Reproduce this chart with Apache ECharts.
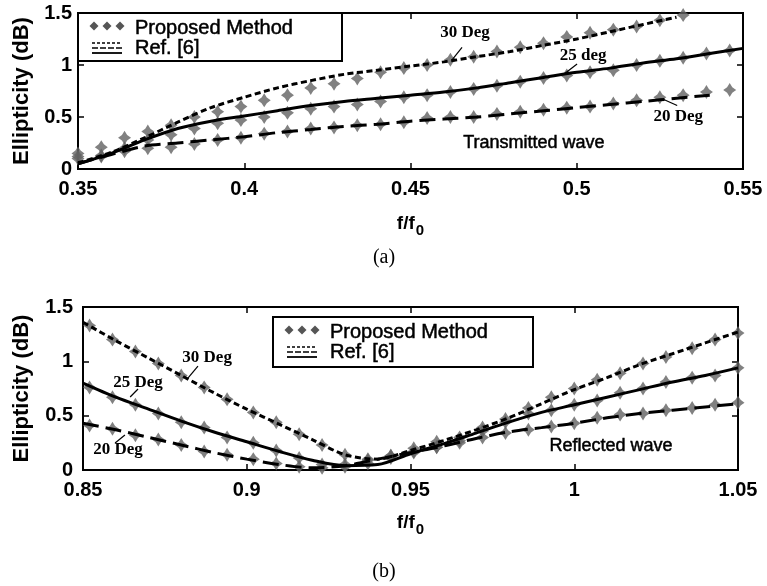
<!DOCTYPE html>
<html>
<head>
<meta charset="utf-8">
<script src="https://cdn.jsdelivr.net/npm/echarts@6/dist/echarts.min.js"></script>
<style>
  html, body { margin: 0; padding: 0; background: #fff; }
  #chart { width: 767px; height: 586px; }
</style>
</head>
<body>
<div id="chart"></div>
<script>
// ---- Panel (a): transmitted wave ----
// Frequencies of the computed points (proposed method)
const fTrans = [0.350, 0.357, 0.364, 0.371, 0.378, 0.385, 0.392, 0.399, 0.406, 0.413,
                0.420, 0.427, 0.434, 0.441, 0.448, 0.455, 0.462, 0.469, 0.476, 0.483,
                0.490, 0.497, 0.504, 0.511, 0.518, 0.525, 0.532, 0.539, 0.546];
const trans30 = [0.15, 0.21, 0.30, 0.36, 0.42, 0.50, 0.55, 0.60, 0.66, 0.71,
                 0.78, 0.82, 0.87, 0.93, 0.97, 1.00, 1.05, 1.08, 1.13, 1.17,
                 1.21, 1.27, 1.31, 1.34, 1.37, 1.43, 1.48];
const trans25 = [0.12, 0.13, 0.20, 0.28, 0.33, 0.39, 0.44, 0.47, 0.50, 0.54,
                 0.58, 0.60, 0.62, 0.65, 0.69, 0.71, 0.74, 0.77, 0.80, 0.84,
                 0.875, 0.90, 0.93, 0.95, 1.00, 1.04, 1.07, 1.11, 1.14];
const trans20 = [0.10, 0.12, 0.17, 0.20, 0.21, 0.24, 0.28, 0.30, 0.34, 0.36,
                 0.39, 0.40, 0.42, 0.43, 0.45, 0.49, 0.50, 0.50, 0.53, 0.55,
                 0.57, 0.59, 0.60, 0.63, 0.66, 0.69, 0.71, 0.74, 0.76];
// Reference curves, Ref. [6]
const fTransRef = [0.35, 0.36, 0.37, 0.38, 0.39, 0.40, 0.41, 0.42, 0.43, 0.44, 0.45,
                   0.46, 0.47, 0.48, 0.49, 0.50, 0.51, 0.52, 0.53, 0.54, 0.55];
const ref30T = [0.06, 0.16, 0.30, 0.45, 0.59, 0.69, 0.78, 0.85, 0.91, 0.95, 0.99,
                1.03, 1.08, 1.13, 1.19, 1.25, 1.32, 1.39, 1.46, null, null];
const ref25T = [0.05, 0.15, 0.28, 0.39, 0.46, 0.51, 0.56, 0.61, 0.65, 0.68, 0.71,
                0.74, 0.78, 0.83, 0.88, 0.93, 0.97, 1.02, 1.06, 1.11, 1.16];
const ref20T = [0.05, 0.14, 0.22, 0.25, 0.28, 0.31, 0.35, 0.38, 0.41, 0.43, 0.46,
                0.48, 0.50, 0.53, 0.56, 0.59, 0.62, 0.65, 0.68, 0.71, null];

// ---- Panel (b): reflected wave ----
const fRefl = [0.852, 0.859, 0.866, 0.873, 0.880, 0.887, 0.894, 0.902, 0.909, 0.916,
               0.923, 0.930, 0.937, 0.944, 0.951, 0.958, 0.965, 0.972, 0.979, 0.986,
               0.993, 1.000, 1.007, 1.014, 1.021, 1.028, 1.036, 1.043, 1.050];
const refl30 = [1.33, 1.20, 1.09, 0.98, 0.87, 0.76, 0.65, 0.53, 0.44, 0.33,
                0.23, 0.14, 0.10, 0.13, 0.20, 0.26, 0.30, 0.39, 0.47, 0.57,
                0.67, 0.75, 0.83, 0.89, 0.98, 1.04, 1.12, 1.20, 1.26];
const refl25 = [0.76, 0.67, 0.60, 0.52, 0.44, 0.39, 0.30, 0.25, 0.18, 0.11,
                0.05, 0.03, 0.06, 0.11, 0.16, 0.21, 0.27, 0.36, 0.44, 0.52,
                0.55, 0.60, 0.64, 0.71, 0.75, 0.81, 0.85, 0.87, 0.94];
const refl20 = [0.41, 0.38, 0.32, 0.28, 0.23, 0.17, 0.14, 0.10, 0.06, 0.03,
                0.02, 0.05, 0.09, 0.13, 0.17, 0.21, 0.25, 0.30, 0.34, 0.37,
                0.40, 0.43, 0.48, 0.51, 0.52, 0.55, 0.57, 0.60, 0.62];
const fReflRef = [0.85, 0.86, 0.87, 0.88, 0.89, 0.90, 0.91, 0.92, 0.93, 0.94, 0.95,
                  0.96, 0.97, 0.98, 0.99, 1.00, 1.01, 1.02, 1.03, 1.04, 1.05];
const ref30R = [1.36, 1.19, 1.03, 0.87, 0.71, 0.56, 0.42, 0.28, 0.14, 0.10, 0.18,
                0.27, 0.37, 0.48, 0.61, 0.74, 0.85, 0.97, 1.07, 1.17, 1.27];
const ref25R = [0.80, 0.67, 0.56, 0.45, 0.35, 0.26, 0.17, 0.09, 0.04, 0.05, 0.15,
                0.24, 0.34, 0.44, 0.53, 0.60, 0.67, 0.74, 0.81, 0.87, 0.94];
const ref20R = [0.43, 0.37, 0.30, 0.23, 0.16, 0.10, 0.05, 0.02, 0.04, 0.10, 0.16,
                0.22, 0.29, 0.35, 0.39, 0.43, 0.48, 0.52, 0.55, 0.58, 0.61];

// Axis ranges and tick labels
const xTicksA = [0.35, 0.4, 0.45, 0.5, 0.55];
const xTicksB = [0.85, 0.9, 0.95, 1, 1.05];
const yTicks = [0, 0.5, 1, 1.5];

const SANS = "'Liberation Sans', Arial, Helvetica, sans-serif";
const SERIF = "'Liberation Serif', 'Times New Roman', serif";
const STAR = 'path://M10,0 L14,6 L20,10 L14,14 L10,20 L6,14 L0,10 L6,6 Z';

function pairs(xs, ys) {
  const out = [];
  for (let i = 0; i < xs.length; i++) {
    if (ys[i] !== undefined && ys[i] !== null) out.push([xs[i], ys[i]]);
  }
  return out;
}

const chart = echarts.init(document.getElementById('chart'), null, { renderer: 'canvas' });

function mainX(grid, ticks, nameGap) {
  return {
    gridIndex: grid, type: 'value',
    min: ticks[0], max: ticks[ticks.length - 1], interval: 0.05,
    axisLine: { show: true, onZero: false, lineStyle: { color: '#000', width: 2 } },
    axisTick: { show: true, inside: true, length: 6, lineStyle: { color: '#000', width: 1.5 } },
    axisLabel: { color: '#000', fontSize: 20, fontWeight: 'bold', fontFamily: SANS, margin: 10,
                 formatter: v => String(+v.toFixed(2)) },
    splitLine: { show: false },
    name: '{a|f/f}{b|0}', nameLocation: 'middle', nameGap: nameGap,
    nameTextStyle: {
      rich: {
        a: { fontSize: 19, fontWeight: 'bold', fontFamily: SANS, color: '#000' },
        b: { fontSize: 15, fontWeight: 'bold', fontFamily: SANS, color: '#000', padding: [14, 0, 0, 1] }
      }
    }
  };
}
function mirrorX(grid, ticks) {
  return {
    gridIndex: grid, type: 'value', position: 'top',
    min: ticks[0], max: ticks[ticks.length - 1], interval: 0.05,
    axisLine: { show: true, onZero: false, lineStyle: { color: '#000', width: 2 } },
    axisTick: { show: true, inside: true, length: 6, lineStyle: { color: '#000', width: 1.5 } },
    axisLabel: { show: false }, splitLine: { show: false }
  };
}
function mainY(grid, margin, nameGap) {
  return {
    gridIndex: grid, type: 'value', min: yTicks[0], max: yTicks[yTicks.length - 1], interval: 0.5,
    axisLine: { show: true, onZero: false, lineStyle: { color: '#000', width: 2 } },
    axisTick: { show: true, inside: true, length: 6, lineStyle: { color: '#000', width: 1.5 } },
    axisLabel: { color: '#000', fontSize: 20, fontWeight: 'bold', fontFamily: SANS, margin: margin },
    splitLine: { show: false },
    name: 'Ellipticity (dB)', nameLocation: 'middle', nameRotate: 90, nameGap: nameGap,
    nameTextStyle: { color: '#000', fontSize: 22, fontWeight: 'bold', fontFamily: SANS }
  };
}
function mirrorY(grid) {
  return {
    gridIndex: grid, type: 'value', position: 'right', min: 0, max: 1.5, interval: 0.5,
    axisLine: { show: true, onZero: false, lineStyle: { color: '#000', width: 2 } },
    axisTick: { show: true, inside: true, length: 6, lineStyle: { color: '#000', width: 1.5 } },
    axisLabel: { show: false }, splitLine: { show: false }
  };
}

function markers(xi, yi, xs, ys) {
  return {
    name: 'Proposed Method', type: 'scatter', xAxisIndex: xi, yAxisIndex: yi,
    data: pairs(xs, ys), symbol: STAR, symbolSize: [13, 14],
    itemStyle: { color: '#626262' }, z: 2, silent: true
  };
}
function refLine(xi, yi, xs, ys, dash) {
  return {
    name: 'Ref. [6]', type: 'line', xAxisIndex: xi, yAxisIndex: yi,
    data: pairs(xs, ys), showSymbol: false, smooth: 0.3,
    lineStyle: { color: '#000', width: 3, type: dash }, z: 3, silent: true
  };
}

const DASH30 = [6, 3.5];
const DASH20 = [16, 7];

chart.setOption({
  backgroundColor: '#fff',
  animation: false,
  grid: [
    { left: 78, top: 13, width: 665, height: 156, show: true, borderColor: '#000', borderWidth: 2 },
    { left: 83, top: 307, width: 655, height: 163, show: true, borderColor: '#000', borderWidth: 2 }
  ],
  xAxis: [mainX(0, xTicksA, 40), mirrorX(0, xTicksA), mainX(1, xTicksB, 38), mirrorX(1, xTicksB)],
  yAxis: [mainY(0, 6, 44), mirrorY(0), mainY(1, 10, 50), mirrorY(1)],
  series: [
    markers(0, 0, fTrans, trans30),
    markers(0, 0, fTrans, trans25),
    markers(0, 0, fTrans, trans20),
    refLine(0, 0, fTransRef, ref30T, DASH30),
    refLine(0, 0, fTransRef, ref25T, 'solid'),
    refLine(0, 0, fTransRef, ref20T, DASH20),
    markers(2, 2, fRefl, refl30),
    markers(2, 2, fRefl, refl25),
    markers(2, 2, fRefl, refl20),
    refLine(2, 2, fReflRef, ref30R, DASH30),
    refLine(2, 2, fReflRef, ref25R, 'solid'),
    refLine(2, 2, fReflRef, ref20R, DASH20)
  ]
});

// ---- Annotations, legends and captions ----
function px(grid, x, y) {
  return chart.convertToPixel({ xAxisIndex: grid * 2, yAxisIndex: grid * 2 }, [x, y]);
}
const g = [];
function label(grid, text, x, y, font, heavy) {
  const p = px(grid, x, y);
  const style = { text: text, font: font, fill: '#000', align: 'center', verticalAlign: 'middle' };
  if (heavy) { style.stroke = '#000'; style.lineWidth = 0.5; }
  g.push({ type: 'text', x: p[0], y: p[1], z: 10, style: style });
}
function leader(grid, x1, y1, x2, y2) {
  const a = px(grid, x1, y1), b = px(grid, x2, y2);
  g.push({ type: 'line', z: 10, shape: { x1: a[0], y1: a[1], x2: b[0], y2: b[1] },
           style: { stroke: '#000', lineWidth: 1.2 } });
}
const DEG_FONT = "bold 17px " + SERIF;
const WAVE_FONT = "18px " + SANS;

// Panel (a)
label(0, '30 Deg', 0.4664, 1.31, DEG_FONT);
leader(0, 0.4655, 1.17, 0.4625, 1.05);
label(0, '25 deg', 0.5019, 1.087, DEG_FONT);
leader(0, 0.5001, 1.01, 0.4965, 0.92);
label(0, '20 Deg', 0.5305, 0.50, DEG_FONT);
leader(0, 0.5302, 0.61, 0.526, 0.67);
label(0, 'Transmitted wave', 0.4871, 0.25, WAVE_FONT, true);
// Panel (b)
label(1, '30 Deg', 0.8879, 1.03, DEG_FONT);
leader(1, 0.8851, 0.957, 0.8821, 0.847);
label(1, '25 Deg', 0.8668, 0.80, DEG_FONT);
leader(1, 0.8668, 0.745, 0.8644, 0.672);
label(1, '20 Deg', 0.8607, 0.184, DEG_FONT);
leader(1, 0.8598, 0.248, 0.8628, 0.322);
label(1, 'Reflected wave', 1.0112, 0.22, WAVE_FONT, true);

// Legend boxes
function legendBox(x0, y0, w, h) {
  g.push({ type: 'rect', z: 11, shape: { x: x0, y: y0, width: w, height: h },
           style: { fill: '#fff', stroke: '#000', lineWidth: 2 } });
  const ix = x0 + 14, tx = x0 + 57;
  // three diamonds
  for (let k = 0; k < 3; k++) {
    const cx = ix + 2 + k * 13, cy = y0 + 13;
    g.push({ type: 'polygon', z: 12, shape: { points: [[cx, cy - 4.5], [cx + 4.5, cy], [cx, cy + 4.5], [cx - 4.5, cy]] },
             style: { fill: '#555' } });
  }
  // stacked line samples
  g.push({ type: 'line', z: 12, shape: { x1: ix, y1: y0 + 30, x2: ix + 30, y2: y0 + 30 },
           style: { stroke: '#000', lineWidth: 1.6, lineDash: [3, 2] } });
  g.push({ type: 'line', z: 12, shape: { x1: ix, y1: y0 + 35, x2: ix + 30, y2: y0 + 35 },
           style: { stroke: '#000', lineWidth: 1.6, lineDash: [6, 2] } });
  g.push({ type: 'line', z: 12, shape: { x1: ix, y1: y0 + 40, x2: ix + 30, y2: y0 + 40 },
           style: { stroke: '#000', lineWidth: 1.8 } });
  const ts = { font: '20px ' + SANS, fill: '#000', stroke: '#000', lineWidth: 0.5, verticalAlign: 'middle' };
  g.push({ type: 'text', z: 12, x: tx, y: y0 + 15, style: Object.assign({ text: 'Proposed Method' }, ts) });
  g.push({ type: 'text', z: 12, x: tx, y: y0 + 35, style: Object.assign({ text: 'Ref. [6]' }, ts) });
}
legendBox(78, 13, 264, 48);
legendBox(273, 317, 260, 50);

// Captions
g.push({ type: 'text', x: 384, y: 258, style: { text: '(a)', font: '20px ' + SERIF, fill: '#000', align: 'center', verticalAlign: 'middle' } });
g.push({ type: 'text', x: 384, y: 572, style: { text: '(b)', font: '20px ' + SERIF, fill: '#000', align: 'center', verticalAlign: 'middle' } });

chart.setOption({ graphic: g });
</script>
</body>
</html>
